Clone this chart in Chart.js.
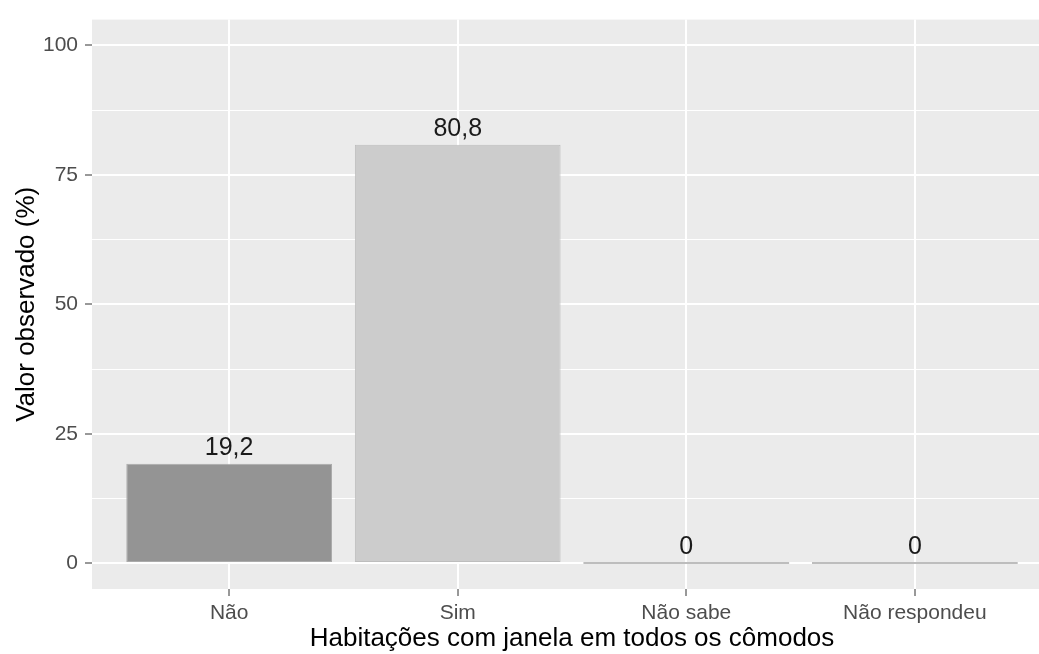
<!DOCTYPE html>
<html>
<head>
<meta charset="utf-8">
<script src="https://cdn.jsdelivr.net/npm/chart.js@4/dist/chart.umd.min.js"></script>
<style>
  html, body { margin: 0; padding: 0; background: #ffffff; overflow: hidden; }
  #wrap { width: 1052px; height: 654px; }
</style>
</head>
<body>
<div id="wrap"><canvas id="chart_hab"></canvas></div>
<script>
// dados
var categorias = ["Não", "Sim", "Não sabe", "Não respondeu"];
var valores = [19.2, 80.8, 0, 0];
var yTicks = [0, 25, 50, 75, 100];
var yMinor = [12.5, 37.5, 62.5, 87.5];

var corBarra = ["#949494", "#CCCCCC", "#BDBDBD", "#BDBDBD"];
var corBorda = ["#ABABAB", "#BDBDBD", "#BDBDBD", "#BDBDBD"];
var fonte = "'Liberation Sans', Arial, sans-serif";

function isMajor(v) {
  return yTicks.indexOf(v) >= 0;
}

// fundo cinza do painel (estilo ggplot)
var painel = {
  id: "painel",
  beforeDraw: function (chart) {
    var a = chart.chartArea;
    var ctx = chart.ctx;
    ctx.save();
    ctx.fillStyle = "#EBEBEB";
    ctx.fillRect(a.left, a.top, a.right - a.left, a.bottom - a.top);
    ctx.restore();
  }
};

// rotulos em cima das barras
var rotulos = {
  id: "rotulos",
  afterDatasetsDraw: function (chart) {
    var ctx = chart.ctx;
    var meta = chart.getDatasetMeta(0);
    var base = chart.scales.y.getPixelForValue(0);
    ctx.save();
    ctx.font = "25px " + fonte;
    ctx.fillStyle = "#1A1A1A";
    ctx.textAlign = "center";
    ctx.textBaseline = "alphabetic";
    meta.data.forEach(function (bar, i) {
      var topo = Math.min(bar.y, base);
      ctx.fillText(String(valores[i]).replace(".", ","), bar.x, topo - 9);
    });
    ctx.restore();
  }
};

var pontos = valores.map(function (v, i) { return { x: i, y: v }; });

new Chart(document.getElementById("chart_hab"), {
  type: "bar",
  data: {
    datasets: [{
      label: "Valor observado (%)",
      data: pontos,
      backgroundColor: corBarra,
      borderColor: corBorda,
      borderWidth: [1, 1, 0, 0],
      borderSkipped: false,
      minBarLength: 2,
      barPercentage: 0.9,
      categoryPercentage: 1
    }]
  },
  options: {
    responsive: true,
    maintainAspectRatio: false,
    devicePixelRatio: 1,
    animation: false,
    layout: { padding: { top: 15, left: 0, right: 0, bottom: 0 } },
    plugins: {
      legend: { display: false },
      tooltip: { enabled: false }
    },
    scales: {
      x: {
        type: "linear",
        offset: false,
        min: -0.6,
        max: 3.6,
        afterBuildTicks: function (scale) {
          scale.ticks = categorias.map(function (c, i) { return { value: i }; });
        },
        afterFit: function (scale) { scale.height = 65; },
        border: { display: false },
        grid: {
          offset: false,
          color: "#FFFFFF",
          lineWidth: 2,
          drawTicks: true,
          tickLength: 7,
          tickColor: "#333333",
          tickWidth: 1
        },
        ticks: {
          autoSkip: false,
          maxRotation: 0,
          padding: 7,
          color: "#4D4D4D",
          font: { family: fonte, size: 21, lineHeight: 1 },
          callback: function (v) { return categorias[v]; }
        },
        title: {
          display: true,
          text: "Habitações com janela em todos os cômodos",
          color: "#000000",
          font: { family: fonte, size: 26 },
          padding: { top: 0, bottom: 0 }
        }
      },
      y: {
        min: -5,
        max: 105,
        afterBuildTicks: function (scale) {
          scale.ticks = yTicks.concat(yMinor).sort(function (a, b) { return a - b; })
            .map(function (v) { return { value: v }; });
        },
        afterFit: function (scale) { scale.width = 92; },
        border: { display: false },
        grid: {
          color: "#FFFFFF",
          lineWidth: function (c) { return isMajor(c.tick.value) ? 2 : 1; },
          drawTicks: true,
          tickLength: 7,
          tickColor: function (c) { return isMajor(c.tick.value) ? "#333333" : "rgba(0,0,0,0)"; },
          tickWidth: 1
        },
        ticks: {
          autoSkip: false,
          padding: 7,
          color: "#4D4D4D",
          font: { family: fonte, size: 21 },
          callback: function (v) { return isMajor(v) ? String(v) : ""; }
        },
        title: {
          display: true,
          text: "Valor observado (%)",
          color: "#000000",
          font: { family: fonte, size: 26 },
          padding: { top: 11, bottom: 0 }
        }
      }
    }
  },
  plugins: [painel, rotulos]
});
</script>
</body>
</html>
